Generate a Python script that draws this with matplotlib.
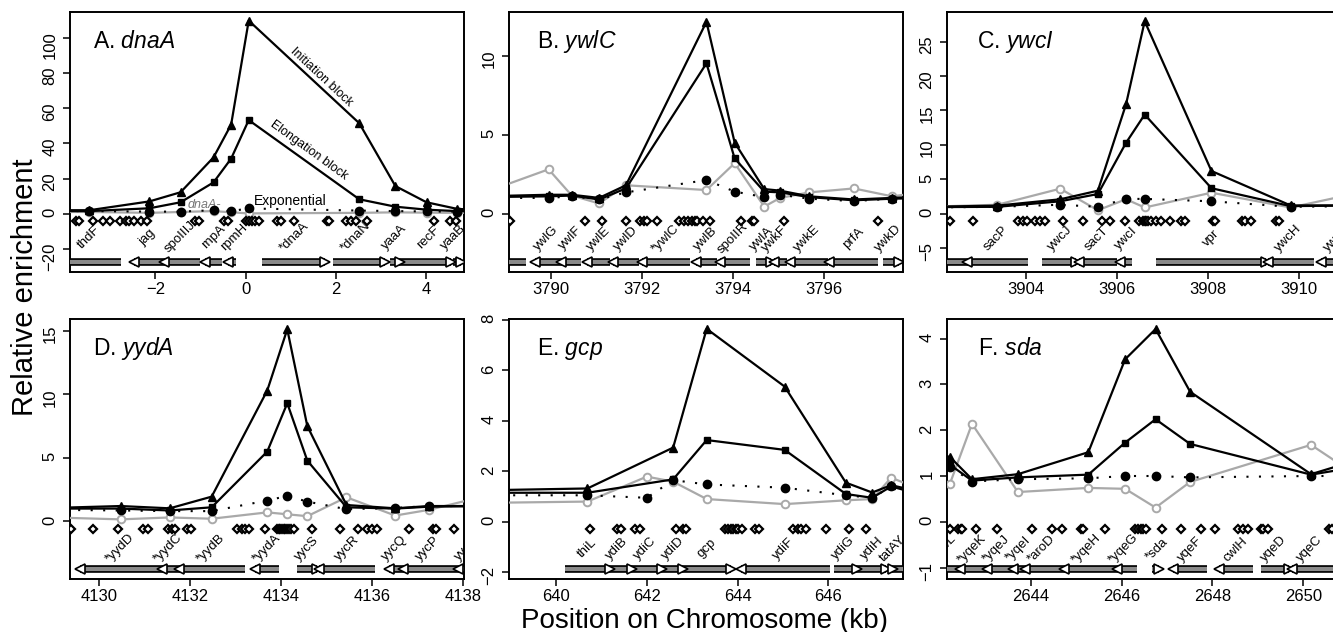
import matplotlib
matplotlib.use("Agg")
import matplotlib.pyplot as plt

plt.rcParams['font.family'] = ['Liberation Sans', 'DejaVu Sans']
plt.rcParams['mathtext.fontset'] = 'custom'
plt.rcParams['mathtext.rm'] = 'Liberation Sans'
plt.rcParams['mathtext.it'] = 'Liberation Sans:italic'

# ---- Panel A: dnaA ----
a_x = [-4.3, -3.46, -2.13, -1.44, -0.71, -0.32, 0.07, 2.52, 3.32, 4.01, 4.68, 5.2]
a_init = [2.0, 2.0, 7.0, 12.2, 32.0, 50.6, 109.7, 51.4, 15.7, 6.5, 2.8, 2.0]
a_elong = [1.5, 1.5, 3.1, 6.5, 17.8, 31.3, 53.2, 8.2, 4.0, 2.3, 1.5, 1.5]
a_expo = [1.5, 1.5, 1.2, 1.2, 2.0, 1.5, 3.0, 1.8, 1.5, 1.3, 1.2, 1.2]
a_dnaa = [1.0, 1.0, 0.5, 1.0, 1.5, 0.8, 0.2, 0.5, 0.8, 0.6, 0.5, 0.5]
a_diam = [-3.76, -3.70, -3.37, -3.15, -3.01, -2.79, -2.64, -2.59, -2.47, -2.32, -2.19,
          -1.11, -1.04, -0.47, -0.39, 0.0, 0.07, 0.15, 0.22, 0.30, 0.70, 0.78, 1.07,
          1.80, 1.85, 2.22, 2.33, 2.44, 2.69, 4.17, 4.52, 4.67]
a_genes = ['thdF', 'jag', 'spoIIIJ', 'rnpA', 'rpmH', '*dnaA', '*dnaN', 'yaaA', 'recF', 'yaaB']
a_gene_x = [-3.46, -2.18, -1.44, -0.70, -0.26, 1.07, 2.44, 3.30, 4.04, 4.60]
a_arrows = [(-4.0, -2.76, 0), (-2.48, -1.81, -1), (-1.81, -1.02, -1), (-0.89, -0.52, -1),
            (-0.39, -0.22, -1), (0.37, 1.76, 1), (1.93, 3.09, 1), (3.21, 3.43, 1),
            (3.43, 4.56, 1), (4.59, 4.78, 1)]

# ---- Panel B: ywlC ----
b_x = [3788.5, 3789.95, 3790.46, 3791.06, 3791.65, 3793.42, 3794.04, 3794.69, 3795.04,
       3795.68, 3796.66, 3797.5, 3798.3]
b_init = [1.1, 1.2, 1.2, 1.0, 1.8, 12.15, 4.5, 1.56, 1.46, 1.1, 0.9, 1.0, 1.1]
b_elong = [1.05, 1.1, 1.15, 0.9, 1.6, 9.52, 3.5, 1.4, 1.35, 1.05, 0.85, 0.95, 1.0]
b_expo = [1.0, 1.0, 1.1, 0.9, 1.35, 2.13, 1.4, 1.05, 1.2, 0.95, 0.8, 0.95, 1.0]
b_dnaa = [1.3, 2.81, 1.15, 0.65, 1.8, 1.5, 3.2, 0.45, 1.0, 1.35, 1.6, 1.1, 1.4]
b_diam = [3789.10, 3790.75, 3791.12, 3791.65, 3791.96, 3792.04, 3792.11, 3792.34, 3792.82,
          3792.93, 3793.02, 3793.11, 3793.17, 3793.22, 3793.35, 3793.50, 3794.17, 3794.42,
          3794.47, 3795.13, 3797.2]
b_genes = ['ywlG', 'ywlF', 'ywlE', 'ywlD', '*ywlC', 'ywlB', 'spoIIR', 'ywlA', 'ywkF',
           'ywkE', 'prfA', 'ywkD']
b_gene_x = [3789.89, 3790.42, 3791.05, 3791.65, 3792.51, 3793.41, 3794.01, 3794.64,
            3794.93, 3795.63, 3796.65, 3797.42]
b_arrows = [(3788.9, 3789.46, 0), (3789.66, 3790.22, -1), (3790.22, 3790.66, -1),
            (3790.8, 3791.3, -1), (3791.36, 3791.93, -1), (3792.0, 3793.05, -1),
            (3793.19, 3793.65, -1), (3793.71, 3794.38, -1), (3794.51, 3794.84, 1),
            (3794.91, 3795.2, -1), (3795.26, 3796.1, -1), (3796.12, 3797.2, -1),
            (3797.3, 3797.66, 1)]

# ---- Panel C: ywcI ----
c_x = [3901.8, 3903.37, 3904.75, 3905.58, 3906.2, 3906.61, 3908.08, 3909.82, 3911.3]
c_init = [1.0, 1.17, 2.09, 3.34, 15.9, 27.96, 6.2, 1.2, 1.2]
c_elong = [0.95, 1.0, 1.8, 2.86, 10.3, 14.4, 3.7, 1.1, 1.2]
c_expo = [0.9, 1.0, 1.3, 1.0, 2.15, 2.15, 1.8, 1.0, 1.1]
c_dnaa = [1.0, 1.3, 3.63, 0.5, 2.1, 0.9, 3.05, 0.9, 3.0]
c_diam = [3902.33, 3902.84, 3903.83, 3903.94, 3904.01, 3904.2, 3904.31, 3904.42, 3904.82,
          3905.25, 3905.66, 3905.85, 3906.18, 3906.49, 3906.58, 3906.62, 3906.65, 3906.69,
          3906.76, 3906.87, 3906.98, 3907.16, 3907.42, 3907.49, 3908.12, 3908.15, 3908.76,
          3908.81, 3908.96, 3909.5, 3909.57]
c_genes = ['sacP', 'ywcJ', 'sacT', 'ywcI', 'vpr', 'ywcH', 'ywcG']
c_gene_x = [3903.34, 3904.75, 3905.55, 3906.2, 3908.08, 3909.77, 3910.85]
c_arrows = [(3902.1, 3902.70, 0), (3902.70, 3904.04, -1), (3904.34, 3905.1, 1),
            (3905.16, 3906.0, -1), (3906.06, 3906.34, -1), (3906.87, 3909.29, 1),
            (3909.33, 3910.33, -1), (3910.5, 3911.2, -1)]

# ---- Panel D: yydA ----
d_x = [4129.0, 4130.48, 4131.56, 4132.48, 4133.7, 4134.14, 4134.58, 4135.44, 4136.51,
       4137.25, 4138.5]
d_init = [1.05, 1.2, 1.02, 1.94, 10.3, 15.13, 7.5, 1.28, 1.02, 1.2, 1.2]
d_elong = [1.0, 1.0, 0.85, 1.1, 5.49, 9.3, 4.78, 1.1, 1.0, 1.15, 1.2]
d_expo = [0.9, 0.85, 0.8, 0.8, 1.63, 2.0, 1.55, 0.95, 1.05, 1.2, 1.2]
d_dnaa = [0.3, 0.15, 0.3, 0.2, 0.7, 0.55, 0.4, 1.89, 0.45, 0.9, 2.0]
d_diam = [4129.40, 4129.87, 4130.43, 4130.98, 4131.09, 4131.53, 4131.61, 4131.68, 4131.94,
          4132.03, 4133.04, 4133.15, 4133.22, 4133.30, 4133.66, 4133.92, 4133.96, 4133.99,
          4134.03, 4134.07, 4134.10, 4134.14, 4134.18, 4134.23, 4134.29, 4134.69, 4135.30,
          4135.70, 4135.89, 4135.99, 4136.11, 4136.82, 4137.33, 4137.41, 4137.81]
d_genes = ['*yydD', '*yydC', '*yydB', '*yydA', 'yycS', 'yycR', 'yycQ', 'yycP', 'yycO']
d_gene_x = [4130.47, 4131.53, 4132.45, 4133.7, 4134.58, 4135.45, 4136.49, 4137.23, 4138.1]
d_arrows = [(4129.59, 4131.39, -1), (4131.39, 4131.77, -1), (4131.77, 4133.22, -1),
            (4133.44, 4133.96, -1), (4134.36, 4134.79, 1), (4134.84, 4136.07, -1),
            (4136.38, 4136.67, -1), (4136.67, 4137.88, -1), (4137.88, 4138.03, -1)]

# ---- Panel E: gcp ----
e_x = [638.5, 640.69, 642.58, 643.32, 645.04, 646.39, 646.97, 647.39, 648.0]
e_init = [1.25, 1.32, 2.94, 7.65, 5.36, 1.55, 1.16, 1.45, 1.2]
e_elong = [1.15, 1.15, 1.68, 3.24, 2.85, 1.1, 0.95, 1.4, 1.1]
e_ctrl_x = [638.5, 640.69, 642.0, 642.58, 643.32, 645.04, 646.39, 646.97, 647.39, 648.0]
e_expo = [1.05, 1.05, 0.95, 1.65, 1.48, 1.35, 1.05, 0.95, 1.4, 1.1]
e_dnaa = [0.75, 0.8, 1.79, 1.59, 0.9, 0.7, 0.85, 0.9, 1.75, 1.3]
e_diam = [640.75, 641.34, 641.43, 641.74, 641.85, 642.64, 642.79, 642.86, 643.72, 643.8,
          643.85, 643.91, 643.96, 644.02, 644.09, 644.38, 644.48, 645.23, 645.34, 645.39,
          645.52, 645.95, 646.46, 646.83]
e_genes = ['thiL', 'ydiB', 'ydiC', 'ydiD', 'gcp', 'ydiF', 'ydiG', 'ydiH', 'tatAY']
e_gene_x = [640.68, 641.34, 641.97, 642.59, 643.33, 645.02, 646.34, 646.97, 647.42]
e_arrows = [(640.2, 641.18, 1), (641.18, 641.67, 1), (641.67, 642.33, 1), (642.33, 642.79, 1),
            (642.79, 643.85, 1), (644.08, 646.03, -1), (646.13, 646.63, 1),
            (646.63, 647.27, 1), (647.32, 647.43, 1), (647.43, 647.8, 0)]

# ---- Panel F: sda ----
f_x = [2641.7, 2642.22, 2642.71, 2643.72, 2645.27, 2646.08, 2646.75, 2647.51, 2650.17, 2651.2]
f_init = [1.5, 1.42, 0.93, 1.04, 1.52, 3.55, 4.21, 2.84, 1.04, 1.35]
f_elong = [1.35, 1.25, 0.9, 0.97, 1.03, 1.73, 2.24, 1.7, 1.03, 1.2]
f_expo = [1.25, 1.2, 0.88, 0.93, 0.95, 1.0, 1.0, 0.97, 1.0, 1.0]
f_dnaa = [0.9, 0.82, 2.14, 0.65, 0.74, 0.72, 0.31, 0.87, 1.68, 1.0]
f_diam = [2642.22, 2642.41, 2642.46, 2642.5, 2642.79, 2643.26, 2644.04, 2644.46, 2644.70,
          2645.1, 2645.16, 2645.64, 2646.3, 2646.37, 2646.42, 2646.48, 2646.54, 2646.89,
          2647.3, 2647.75, 2648.06, 2648.57, 2648.68, 2648.79, 2649.07, 2649.12, 2649.23,
          2650.56, 2650.63]
f_genes = ['*yqeL', '*yqeK', '*yqeJ', '*yqeI', '*aroD', '*yqeH', '*yqeG', '*sda', 'yqeF',
           'cwlH', 'yqeD', 'yqeC']
f_gene_x = [2642.05, 2642.7, 2643.25, 2643.73, 2644.24, 2645.23, 2646.04, 2646.77, 2647.51,
            2648.5, 2649.34, 2650.15]
f_arrows = [(2642.0, 2642.44, 0), (2642.44, 2643.03, -1), (2643.03, 2643.62, -1),
            (2643.62, 2643.88, -1), (2643.88, 2644.73, -1), (2644.73, 2645.89, -1),
            (2645.89, 2646.35, -1), (2646.68, 2646.83, 1), (2647.14, 2647.89, -1),
            (2648.15, 2648.89, -1), (2649.07, 2649.68, 1), (2649.75, 2650.63, -1),
            (2650.63, 2651.0, 0)]

titles = ['A.', 'B.', 'C.', 'D.', 'E.', 'F.']
title_genes = ['dnaA', 'ywlC', 'ywcI', 'yydA', 'gcp', 'sda']

panels = [
    dict(x=a_x, init=a_init, elong=a_elong, cx=a_x, expo=a_expo, dnaa=a_dnaa, diam=a_diam,
         genes=a_genes, gx=a_gene_x, arrows=a_arrows, xlim=(-3.89, 4.84), ylim=(-33.1, 114.6),
         xt=[-2, 0, 2, 4], yt=[-20, 0, 20, 40, 60, 80, 100], dy=-4.1, ly=-13.4, ay=-27.3,
         pos=(70, 12), tx=0.058),
    dict(x=b_x, init=b_init, elong=b_elong, cx=b_x, expo=b_expo, dnaa=b_dnaa, diam=b_diam,
         genes=b_genes, gx=b_gene_x, arrows=b_arrows, xlim=(3789.08, 3797.74), ylim=(-3.69, 12.77),
         xt=[3790, 3792, 3794, 3796], yt=[0, 5, 10], dy=-0.46, ly=-1.56, ay=-3.04,
         pos=(509, 12), tx=0.071),
    dict(x=c_x, init=c_init, elong=c_elong, cx=c_x, expo=c_expo, dnaa=c_dnaa, diam=c_diam,
         genes=c_genes, gx=c_gene_x, arrows=c_arrows, xlim=(3902.26, 3910.93), ylim=(-8.47, 29.3),
         xt=[3904, 3906, 3908, 3910], yt=[-5, 0, 5, 10, 15, 20, 25], dy=-1.06, ly=-3.58, ay=-6.98,
         pos=(947, 12), tx=0.077),
    dict(x=d_x, init=d_init, elong=d_elong, cx=d_x, expo=d_expo, dnaa=d_dnaa, diam=d_diam,
         genes=d_genes, gx=d_gene_x, arrows=d_arrows, xlim=(4129.37, 4138.02), ylim=(-4.55, 15.94),
         xt=[4130, 4132, 4134, 4136, 4138], yt=[0, 5, 10, 15], dy=-0.61, ly=-2.13, ay=-3.76,
         pos=(70, 319), tx=0.058),
    dict(x=e_x, init=e_init, elong=e_elong, cx=e_ctrl_x, expo=e_expo, dnaa=e_dnaa, diam=e_diam,
         genes=e_genes, gx=e_gene_x, arrows=e_arrows, xlim=(638.96, 647.65), ylim=(-2.27, 8.04),
         xt=[640, 642, 644, 646], yt=[-2, 0, 2, 4, 6, 8], dy=-0.29, ly=-1.06, ay=-1.88,
         pos=(509, 319), tx=0.072),
    dict(x=f_x, init=f_init, elong=f_elong, cx=f_x, expo=f_expo, dnaa=f_dnaa, diam=f_diam,
         genes=f_genes, gx=f_gene_x, arrows=f_arrows, xlim=(2642.16, 2650.83), ylim=(-1.25, 4.43),
         xt=[2644, 2646, 2648, 2650], yt=[-1, 0, 1, 2, 3, 4], dy=-0.16, ly=-0.6, ay=-1.03,
         pos=(947, 319), tx=0.079),
]

W, H = 1333, 632
fig = plt.figure(figsize=(W / 100, H / 100), dpi=100)
gray = '#a9a9a9'

for i, p in enumerate(panels):
    left, top = p['pos']
    ax = fig.add_axes([left / W, 1 - (top + 260) / H, 394 / W, 260 / H])

    ax.plot(p['cx'], p['dnaa'], color=gray, lw=1.6, marker='o', ms=5.5, mfc='white',
            mec=gray, mew=1.4, zorder=3)
    ax.plot(p['cx'], p['expo'], color='black', lw=1.5, ls=(0, (1, 5)), marker='o', ms=6,
            mfc='black', mec='black', zorder=4)
    ax.plot(p['x'], p['elong'], color='black', lw=1.6, marker='s', ms=4.5, zorder=5)
    ax.plot(p['x'], p['init'], color='black', lw=1.6, marker='^', ms=5.5, zorder=6)

    ax.plot(p['diam'], [p['dy']] * len(p['diam']), ls='none', marker='D', ms=4.2,
            mfc='white', mec='black', mew=1.6, zorder=4)

    for g, gx in zip(p['genes'], p['gx']):
        ax.text(gx, p['ly'], g, rotation=45, ha='center', va='center',
                rotation_mode='anchor', fontsize=9.5, clip_on=True)

    for x0, x1, d in p['arrows']:
        y = p['ay']
        ax.plot([x0, x1], [y, y], color='black', lw=5.5, solid_capstyle='butt', zorder=3)
        ax.plot([x0, x1], [y, y], color='#8a8a8a', lw=3, solid_capstyle='butt', zorder=3)
        if d > 0:
            ax.plot(x1, y, marker='>', ms=6.5, mfc='white', mec='black', mew=1.2, zorder=4)
        elif d < 0:
            ax.plot(x0, y, marker='<', ms=6.5, mfc='white', mec='black', mew=1.2, zorder=4)

    ax.set_xlim(p['xlim'])
    ax.set_ylim(p['ylim'])
    ax.set_xticks(p['xt'])
    ax.set_yticks(p['yt'])
    ax.tick_params(direction='out', length=5, width=1.1, labelsize=12, pad=2.5)
    ax.tick_params(axis='y', labelrotation=90, pad=4)
    for s in ax.spines.values():
        s.set_linewidth(1.4)

    ax.text(p['tx'], 0.885, titles[i] + ' $\\it{' + title_genes[i] + '}$',
            transform=ax.transAxes, fontsize=16.5, ha='left', va='center')

    if i == 0:
        ax.text(1.67, 77.5, 'Initiation block', rotation=-43, ha='center', va='center',
                rotation_mode='anchor', fontsize=9)
        ax.text(1.40, 36.0, 'Elongation block', rotation=-36, ha='center', va='center',
                rotation_mode='anchor', fontsize=9)
        ax.text(0.18, 7.5, 'Exponential', ha='left', va='center', fontsize=10)
        ax.text(-0.91, 5.0, 'dnaA-', ha='center', va='center', fontsize=9,
                style='italic', color='#777777')

fig.text(0.019, 0.546, 'Relative enrichment', rotation=90, ha='center', va='center', fontsize=21)
fig.text(0.5285, 0.006, 'Position on Chromosome (kb)', ha='center', va='baseline', fontsize=20)

fig.savefig('out.png', dpi=100)
